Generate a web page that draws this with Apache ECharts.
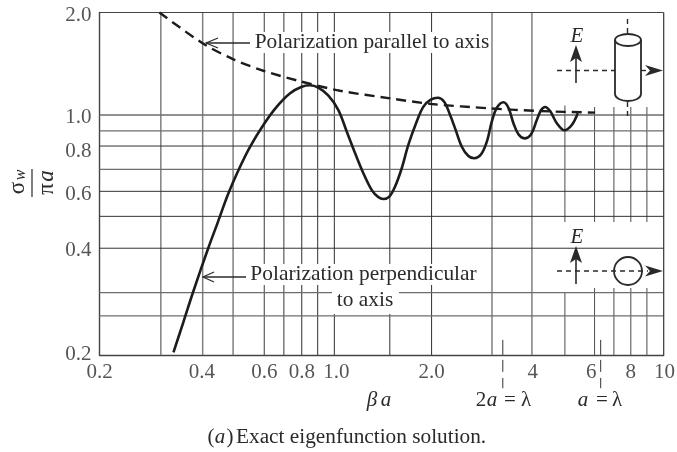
<!DOCTYPE html>
<html><head><meta charset="utf-8">
<style>html,body{margin:0;padding:0;background:#fff}#c{width:677px;height:452px}</style>
<script src="https://cdn.jsdelivr.net/npm/echarts@6/dist/echarts.min.js"></script></head>
<body><div id="c"></div>
<script>
// All values are read from the picture. The reference's hand-drafted grid is not exactly
// logarithmic, so grid and tick-label anchors are the measured positions, not the nominal values.
const solidX=[.334,.358,.383,.425,.451,.489,.53,.568,.623,.684,.75,.813,.861,.912,.978,1.048,1.111,1.177,1.246,1.321,1.383,1.432,1.492,1.552,1.626,1.702,1.796,1.89,1.989,2.088,2.182,2.274,2.354,2.466,2.582,2.69,2.82,2.934,3.036,3.144,3.292,3.408,3.528,3.652,3.806,3.988,4.148,4.274,4.396,4.55,4.766,5.024,5.288,5.512];
const solidY=[.2036,.25,.306,.41,.479,.593,.709,.811,.939,1.062,1.162,1.214,1.226,1.206,1.143,1.038,.897,.776,.679,.606,.578,.571,.58,.62,.702,.821,.95,1.062,1.113,1.128,1.098,1.004,.918,.811,.762,.751,.771,.839,.96,1.054,1.094,1.054,.95,.882,.858,.882,.971,1.038,1.06,1.031,.95,.906,.939,1.016];
const dashX=[.303,.409,.506,.623,.813,1.06,1.5,2.003,3.0,4.244,6.216];
const dashY=[2.0,1.626,1.46,1.352,1.256,1.182,1.123,1.081,1.05,1.031,1.02];
const xGridHeavy=[.306,.409,.505,3.04,4.01];
const xGridMid=[.627,.718];
const xGridLight=[.813,.908,1.019,1.497,2.0];
const xGridShort=[5.04,6.19,7.08,7.96,8.9];
const yGridDark=[.815,.601,.508,.41];
const yGridGray=[1.004,.902,.697,.304,.26];
const xTickValues=[.2,.407,.627,.813,1.034,2.0,4.03,6.05,7.96,10.05];
const xTickLabels=['0.2','0.4','0.6','0.8','1.0','2.0','4','6','8','10'];
const yTickValues=[.2013,.4025,.5904,.788,.9906,1.954];
const yTickLabels=['0.2','0.4','0.6','0.8','1.0','2.0'];
const wavelengthMarks=[3.277,6.46];

const serif='"Liberation Serif","Times New Roman",serif', ink='#2a2a2a';
const xMin=.2,xMax=10,yMin=.2,yMax=2;
function vLines(xs,a,b){const d=[];xs.forEach(x=>{d.push([x,a],[x,b],[null,null]);});return d;}
function hLines(ys,a,b){const d=[];ys.forEach(y=>{d.push([a,y],[b,y],[null,null]);});return d;}
function gridSeries(data,color,width){return {type:'line',data,symbol:'none',silent:true,z:1,connectNulls:false,
  lineStyle:{color,width},animation:false};}
function tickSeries(data,labels,position,distance){return {type:'scatter',data,symbol:'circle',symbolSize:0,clip:false,silent:true,z:8,
  label:{show:true,position,distance,formatter:p=>labels[p.dataIndex],color:ink,fontFamily:serif,fontSize:21}};}
const shortV=[];xGridShort.forEach((x,i)=>{shortV.push([x,i?1.06:1.07],[x,.489],[null,null],[x,i?.314:.304],[x,.2],[null,null]);});
const wave=[];wavelengthMarks.forEach(x=>{wave.push([x,.2214],[x,.16],[null,null]);});

function txt(t,x,y,size,o={}){return {type:'text',x,y,z:30,rotation:o.rot||0,style:{text:t,fill:ink,
  font:`${o.style||'normal'} ${size}px ${serif}`,align:o.align||'center',verticalAlign:'middle'}};}
function ln(pts,w=1.6,dash){return {type:'polyline',z:30,shape:{points:pts},style:{stroke:ink,fill:'none',lineWidth:w,lineDash:dash||null}};}
function rect(x,y,w,h){return {type:'rect',z:20,shape:{x,y,width:w,height:h},style:{fill:'#fff'}};}
function head(pts){return {type:'polygon',z:31,shape:{points:pts},style:{fill:ink}};}
const graphics=[
 rect(250,32,240,21),rect(250,264,228,21),rect(332,285,67,29),
 txt('Polarization parallel to axis',372,42,21.4),
 ln([[250,43],[206,43]],1.4),ln([[218,38],[206,43],[218,48]],1.2),
 txt('Polarization perpendicular',363.5,274,21.4),txt('to axis',365,300,21.4),
 ln([[246,277],[203,277]],1.4),ln([[214,272],[203,277],[214,282]],1.2),
 txt('σ',18,188,23,{rot:Math.PI/2}),txt('w',21,175,16,{rot:Math.PI/2,style:'italic'}),
 ln([[32,169],[32,197]],1.2),
 txt('π',47,189,23,{rot:Math.PI/2}),txt('a',47,176,23,{rot:Math.PI/2,style:'italic'}),
 txt('β',372,400,21,{style:'italic'}),txt('a',386,400,21,{style:'italic'}),
 txt('2',481,400,21),txt('a',492,400,21,{style:'italic'}),txt('=',510,400,21),txt('λ',526,400,21),
 txt('a',583,400,21,{style:'italic'}),txt('=',602,400,21),txt('λ',617,400,21),
 txt('(',211,437,21),txt('a',220,437,21,{style:'italic'}),txt(')',230,437,21),
 txt('Exact eigenfunction solution.',236,437,21.3,{align:'left'}),
 // upper schematic
 txt('E',577,36,21,{style:'italic'}),
 ln([[576,83],[576,55]],1.6),head([[576,45],[582,62],[576,58],[570,62]]),
 ln([[557,70.5],[615,70.5]],1.4,[5,4]),ln([[641,70.5],[648,70.5]],1.4,[5,4]),
 head([[663,70.5],[645,65],[650,70.5],[645,76]]),
 {type:'ellipse',z:28,shape:{cx:628,cy:94,rx:13,ry:7},style:{stroke:ink,fill:'#fff',lineWidth:1.8}},
 {type:'rect',z:29,shape:{x:615,y:40,width:26,height:54},style:{fill:'#fff',stroke:null}},
 ln([[615,40],[615,94]],1.8),ln([[641,40],[641,94]],1.8),
 {type:'ellipse',z:30,shape:{cx:628,cy:40,rx:13,ry:6},style:{stroke:ink,fill:'#fff',lineWidth:1.8}},
 ln([[627.5,19],[627.5,33]],1.4,[5,4]),ln([[627.5,102],[627.5,120]],1.4,[5,4]),
 // lower schematic
 txt('E',577,237,21,{style:'italic'}),
 ln([[576,284],[576,256]],1.6),head([[576,246],[582,263],[576,259],[570,263]]),
 ln([[557,271],[648,271]],1.4,[5,4]),
 {type:'circle',z:30,shape:{cx:628,cy:271,r:14},style:{stroke:ink,fill:'none',lineWidth:1.8}},
 head([[663,271],[645,265.5],[650,271],[645,276.5]])
];
const axisCommon={type:'log',logBase:10,splitLine:{show:false},minorSplitLine:{show:false},minorTick:{show:false},
  axisTick:{show:false},axisLabel:{show:false},axisLine:{show:true,onZero:false,lineStyle:{color:'#444',width:1.4}}};
const option={animation:false,backgroundColor:'#fff',
 grid:{left:99.5,right:13.3,top:12.5,bottom:97,show:false},
 xAxis:Object.assign({min:xMin,max:xMax},axisCommon),
 yAxis:Object.assign({min:yMin,max:yMax},axisCommon),
 series:[
  gridSeries(vLines(xGridHeavy,yMin,yMax),'#808080',1.5),
  gridSeries(vLines(xGridMid,yMin,yMax),'#5a5a5a',1.2),
  gridSeries(vLines(xGridLight,yMin,yMax),'#2f2f2f',1),
  gridSeries(shortV,'#5a5a5a',1.1),
  gridSeries(hLines(yGridDark,xMin,xMax),'#333',1),
  gridSeries(hLines(yGridGray,xMin,xMax),'#6e6e6e',1.3),
  gridSeries(vLines([xMax],yMin,yMax),'#333',1.2),
  gridSeries(hLines([yMax],xMin,xMax),'#444',1.2),
  {type:'line',name:'Polarization parallel to axis',data:dashX.map((x,i)=>[x,dashY[i]]),smooth:.3,symbol:'none',z:5,
   lineStyle:{color:'#1c1c1c',width:2.4,type:[10,6]}},
  {type:'line',name:'Polarization perpendicular to axis',data:solidX.map((x,i)=>[x,solidY[i]]),smooth:.35,symbol:'none',z:6,
   lineStyle:{color:'#1c1c1c',width:2.6}},
  {type:'line',data:wave,symbol:'none',clip:false,z:7,silent:true,lineStyle:{color:'#333',width:1,type:[15,5,12,6]}},
  tickSeries(xTickValues.map(x=>[x,yMin]),xTickLabels,'bottom',7),
  tickSeries(yTickValues.map(y=>[xMin,y]),yTickLabels,'left',8)
 ],
 graphic:{elements:graphics}
};
echarts.init(document.getElementById('c'),null,{renderer:'canvas'}).setOption(option);
</script></body></html>
